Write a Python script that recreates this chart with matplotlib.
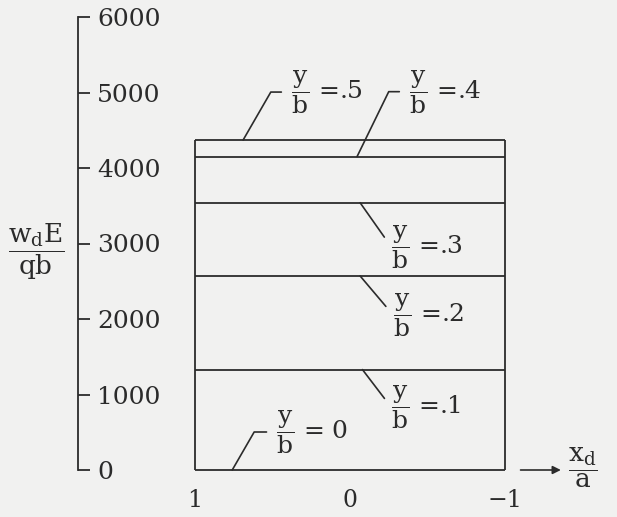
import matplotlib
matplotlib.use("Agg")
import matplotlib.pyplot as plt

plt.rcParams["font.family"] = "DejaVu Serif"
plt.rcParams["mathtext.fontset"] = "dejavuserif"

# deflection curves across the plate, one per spanwise station y/b
y_over_b = [0.0, 0.1, 0.2, 0.3, 0.4, 0.5]
deflection = [0, 1330, 2570, 3540, 4150, 4370]
label_text = [" = 0", " =.1", " =.2", " =.3", " =.4", " =.5"]

x_ticks = [1, 0, -1]
x_tick_labels = ["1", "0", "\u22121"]
y_ticks = [0, 1000, 2000, 3000, 4000, 5000, 6000]

# where each leader touches its line (x/a), text offset in pixels, corner angle
leaders = [
    (0.76, (44, 38), 60),
    (-0.08, (29, -38), None),
    (-0.065, (33, -39), None),
    (-0.065, (31, -44), None),
    (-0.045, (52, 65), 64),
    (0.69, (48, 48), 60),
]

ink = "#2b2b2b"
paper = "#f1f1f0"

fig = plt.figure(figsize=(6.17, 5.17), dpi=100, facecolor=paper)
ax = fig.add_axes([78 / 617, 47 / 517, 532 / 617, 453 / 517])
ax.set_facecolor(paper)
ax.set_xlim(1.755, -1.677)
ax.set_ylim(0, 6000)

# the plate outline and the constant-deflection lines
ax.hlines(deflection, -1, 1, color=ink, lw=1.3, clip_on=False)
ax.vlines([1, -1], 0, max(deflection), color=ink, lw=1.3, clip_on=False)

for yb, w, txt, (xa, off, ang) in zip(y_over_b, deflection, label_text, leaders):
    if ang is None:
        conn = "arc3"
    else:
        conn = "angle,angleA=0,angleB=%d,rad=0" % ang
    ax.annotate(r"$\dfrac{\mathrm{y}}{\mathrm{b}}$" + txt,
                xy=(xa, w), xytext=off, textcoords="offset pixels",
                ha="left", va="center", fontsize=18, color=ink,
                annotation_clip=False,
                arrowprops=dict(arrowstyle="-", color=ink, lw=1.2,
                                connectionstyle=conn, relpos=(0, 0.5),
                                shrinkA=5, shrinkB=0))

# spines: only the left scale is drawn
for side in ["top", "right", "bottom"]:
    ax.spines[side].set_visible(False)
ax.spines["left"].set_color(ink)
ax.spines["left"].set_linewidth(1.3)

ax.set_yticks(y_ticks)
ax.set_yticklabels([str(v) for v in y_ticks])
ax.tick_params(axis="y", direction="in", length=8.6, width=1.3, color=ink,
               pad=-13.7, labelsize=18, labelcolor=ink)
for lab in ax.get_yticklabels():
    lab.set_horizontalalignment("left")

ax.set_xticks(x_ticks)
ax.set_xticklabels(x_tick_labels)
ax.tick_params(axis="x", length=0, pad=14, labelsize=17, labelcolor=ink)
ax.set_xticks([0], minor=True)
ax.tick_params(axis="x", which="minor", direction="out", length=7.5,
               width=1.3, color=ink)

# arrow pointing along the x axis
ax.annotate("", xy=(-1.36, 0), xytext=(-1.10, 0), annotation_clip=False,
            arrowprops=dict(arrowstyle="-|>", color=ink, lw=1.2,
                            mutation_scale=12, shrinkA=0, shrinkB=0))

ax.set_xlabel(r"$\dfrac{\mathrm{x}_{\mathrm{d}}}{\mathrm{a}}$", fontsize=19,
              color=ink)
ax.xaxis.set_label_coords(0.949, 0.004)
ax.xaxis.label.set_verticalalignment("center")

ax.set_ylabel(r"$\dfrac{\mathrm{w}_{\mathrm{d}}\mathrm{E}}{\mathrm{qb}}$",
              fontsize=19, color=ink, rotation=0, ha="center", va="center")
ax.yaxis.set_label_coords(-0.079, 0.481)

fig.savefig("out.png", dpi=100, facecolor=paper)
